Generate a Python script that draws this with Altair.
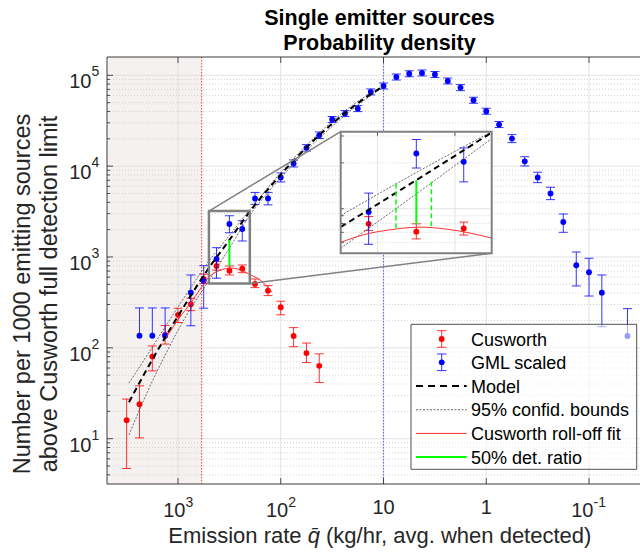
import altair as alt
import pandas as pd

# ---------------- values ----------------
# Cusworth detections (kg/hr bins) with error bars
cus_q  = [3162, 2371, 1778, 1334, 1000, 750, 562, 422, 316, 237, 178, 133, 100, 75.0, 56.2, 42.2]
cus_v  = [16.0, 24.0, 80.2, 139, 231, 302, 573, 796, 707, 743, 505, 426, 280, 135, 87.5, 63.4]
cus_lo = [4.7, 10.2, 55.8, 110, 190, 257, 509, 719, 634, 672, 460, 376, 231, 103, 68.9, 41.6]
cus_hi = [27.3, 38.2, 105, 176, 273, 352, 645, 888, 796, 817, 573, 484, 326, 167, 113, 85.9]

# GML scaled
gml_q  = [2371, 1778, 1334, 750, 562, 422, 316, 237, 178, 133,
          100, 75.0, 56.2, 42.2, 31.6, 23.7, 17.8, 13.3, 10.0,
          7.50, 5.62, 4.22, 3.16, 2.37, 1.78, 1.33, 1.00,
          0.750, 0.562, 0.422, 0.316, 0.237, 0.178, 0.133, 0.100, 0.0750, 0.0422]
gml_v  = [136, 136, 136, 405, 545, 951, 2306, 2032, 4416, 4416,
          7510, 10700, 15900, 21900, 32600, 37900, 43000, 65600, 76300,
          95700, 104000, 106000, 102000, 86600, 73200, 53100, 40200,
          28700, 20100, 11300, 7510, 5010, 2427, 811, 679, 405, 135]
gml_lo = [None, None, None, 175, 273, 584, 1849, 1500, 3794, 3750,
          6700, 9790, 14650, 20150, 30200, 35100, 39850, 60800, 70700,
          88700, 96400, 98200, 94500, 80300, 67800, 49200, 37250,
          26600, 18150, 10050, 6580, 4280, 1870, 480, 372, 171, None]
gml_hi = [275, 275, 275, 634, 802, 1266, 2845, 2507, 5140, 5140,
          8420, 11700, 17250, 23800, 35200, 40900, 46400, 70800, 82300,
          103300, 112200, 114400, 110100, 93400, 79000, 57300, 43400,
          31000, 22250, 12700, 8570, 5860, 2973, 1135, 968, 634, 270]

# Model and its 95% bounds
model_q  = [3000, 2000, 1300, 800, 500, 316, 200, 130, 80, 50, 30, 18, 10]
model_v  = [25.2, 58.6, 136.7, 336, 759, 1540, 3160, 5740, 10640, 18280, 30880, 48820, 76200]
bound_hi = [40.9, 82.7, 178, 414, 902, 1728, 3309, 6015, 11270, 19360, 32700, 51120, 76200]
bound_lo = [11.0, 32.2, 88.3, 243.5, 550, 1252, 2882, 5300, 9820, 16860, 28820, 46620, 74470]

# Cusworth roll-off fit
roll_q = [1300, 956, 764, 611, 500, 436, 371, 309, 263, 228, 200, 159, 122]
roll_v = [130, 219, 304, 440, 601, 674, 727, 757, 735, 692, 642, 558, 412]

# 50% detection ratio (solid = estimate, dashed = its bounds)
green_q    = [316, 357.5, 288.4]
green_lo   = [790, 743, 766]
green_hi   = [1540, 1470, 1500]
green_kind = ["solid", "dash", "dash"]

SHADE_Q = [588, 10000]
LIMIT_Q = [588]
PEAK_Q = [10]
ZOOM_Q = [200, 500]
ZOOM_V = [510, 3200]

X_MAJOR = [1000, 100, 10, 1, 0.1]
XT_BASE = ["10", "10", "10", "1", "10"]
XT_EXP = ["3", "2", "", "", "-1"]
Y_MAJOR = [10, 100, 1000, 10000, 100000]
YT_EXP = ["1", "2", "3", "4", "5"]
Y_MINOR = [m * 10 ** e for e in range(0, 5) for m in range(2, 10) if m * 10 ** e >= 4]
INSET_X_GRID = [400, 250]
INSET_Y_MAJOR = [1000]
INSET_Y_MINOR = [600, 700, 800, 900, 2000, 3000]

LEGEND_LABELS = ["Cusworth", "GML scaled", "Model", "95% confid. bounds",
                 "Cusworth roll-off fit", "50% det. ratio"]

# ---------------- styling / layout ----------------
FONT = "Liberation Sans"
AX = "#262626"
RED = "#FF0000"
BLUE = "#0000FF"
GREEN = "#00FF00"
GRAY = "#808080"
W, H = 533, 427
IX0, IY0, IX1, IY1 = 233.7, 74.7, 384.7, 196.3

XS = alt.Scale(type="log", domain=[0.03189, 4909], reverse=True, nice=False)
YS = alt.Scale(type="log", domain=[3.172, 159000], nice=False)
IXS = alt.Scale(type="log", domain=ZOOM_Q, range=[IX1, IX0], nice=False)
IYS = alt.Scale(type="log", domain=ZOOM_V, range=[IY1, IY0], nice=False, clamp=True)

ONE = pd.DataFrame({"o": [0]})


def ex(f, s):
    return alt.X(f"{f}:Q", scale=s, axis=None)


def ey(f, s):
    return alt.Y(f"{f}:Q", scale=s, axis=None)


cus = pd.DataFrame(dict(q=cus_q, v=cus_v, lo=cus_lo, hi=cus_hi))
cus["bar_lo"] = cus["lo"]
gml = pd.DataFrame(dict(q=gml_q, v=gml_v, lo=gml_lo, hi=gml_hi))
gml["lo"] = gml["lo"].astype(float)
gml["bar_lo"] = gml["lo"].fillna(gml["v"])
model = pd.DataFrame(dict(q=model_q, v=model_v, hi=bound_hi, lo=bound_lo))
roll = pd.DataFrame(dict(q=roll_q, v=roll_v))
green = pd.DataFrame(dict(q=green_q, lo=green_lo, hi=green_hi, kind=green_kind))


def in_zoom(df):
    return df[(df["q"] >= ZOOM_Q[0] - 0.01) & (df["q"] <= ZOOM_Q[1] + 0.01)].reset_index(drop=True)


def errbars(df, color, xs, ys):
    lay = []
    lay.append(alt.Chart(df).mark_rule(color=color, strokeWidth=1, opacity=0.8).encode(
        x=ex("q", xs), y=ey("bar_lo", ys), y2="hi:Q"))
    lay.append(alt.Chart(df).mark_tick(color=color, orient="horizontal", size=9, thickness=1, opacity=0.8).encode(
        x=ex("q", xs), y=ey("hi", ys)))
    lay.append(alt.Chart(df.dropna(subset=["lo"])).mark_tick(color=color, orient="horizontal", size=9,
                                                              thickness=1, opacity=0.8).encode(
        x=ex("q", xs), y=ey("lo", ys)))
    lay.append(alt.Chart(df).mark_circle(color=color, size=34, opacity=1).encode(
        x=ex("q", xs), y=ey("v", ys)))
    return lay


def curves(xs, ys, mdl, rl):
    ordr = alt.Order("q:Q", sort="descending")
    return [
        alt.Chart(mdl).mark_line(color="#444444", strokeWidth=0.8, strokeDash=[2, 1.5],
                                 interpolate="monotone").encode(x=ex("q", xs), y=ey("hi", ys), order=ordr),
        alt.Chart(mdl).mark_line(color="#444444", strokeWidth=0.8, strokeDash=[2, 1.5],
                                 interpolate="monotone").encode(x=ex("q", xs), y=ey("lo", ys), order=ordr),
        alt.Chart(mdl).mark_line(color="black", strokeWidth=2, strokeDash=[6, 4],
                                 interpolate="monotone").encode(x=ex("q", xs), y=ey("v", ys), order=ordr),
        alt.Chart(rl).mark_line(color="#FF3030", strokeWidth=1,
                                interpolate="monotone").encode(x=ex("q", xs), y=ey("v", ys), order=ordr),
    ]


# ---------------- main axes ----------------
main = []
main.append(alt.Chart(pd.DataFrame({"q1": [SHADE_Q[0]], "q2": [SHADE_Q[1]]})).mark_rect(
    color="#F6F1F1", clip=True).encode(x=ex("q1", XS), x2="q2:Q", y=alt.value(0), y2=alt.value(H)))
main.append(alt.Chart(pd.DataFrame({"v": Y_MINOR})).mark_rule(
    color="#C8C8C8", strokeWidth=0.8, strokeDash=[1, 2]).encode(y=ey("v", YS), x=alt.value(0), x2=alt.value(W)))
main.append(alt.Chart(pd.DataFrame({"v": Y_MAJOR})).mark_rule(
    color="#DCDCDC", strokeWidth=0.8).encode(y=ey("v", YS), x=alt.value(0), x2=alt.value(W)))
main.append(alt.Chart(pd.DataFrame({"q": X_MAJOR})).mark_rule(
    color="#DCDCDC", strokeWidth=0.8).encode(x=ex("q", XS), y=alt.value(0), y2=alt.value(H)))
main.append(alt.Chart(pd.DataFrame({"q": LIMIT_Q})).mark_rule(
    color=RED, strokeWidth=1, strokeDash=[1.5, 1.5], opacity=0.8).encode(x=ex("q", XS), y=alt.value(0), y2=alt.value(H)))
main.append(alt.Chart(pd.DataFrame({"q": PEAK_Q})).mark_rule(
    color="#6A6AFF", strokeWidth=1.2, strokeDash=[1.5, 1.5]).encode(x=ex("q", XS), y=alt.value(0), y2=alt.value(H)))
main += errbars(cus, RED, XS, YS)
main += errbars(gml, BLUE, XS, YS)
main += curves(XS, YS, model, roll)
main.append(alt.Chart(green[green["kind"] == "solid"]).mark_rule(color=GREEN, strokeWidth=2).encode(
    x=ex("q", XS), y=ey("lo", YS), y2="hi:Q"))
# zoom box and connectors
zb = pd.DataFrame({"q1": [ZOOM_Q[1]], "q2": [ZOOM_Q[0]], "v1": [ZOOM_V[0]], "v2": [ZOOM_V[1]]})
main.append(alt.Chart(zb).mark_rect(fill="white", fillOpacity=0, stroke=GRAY, strokeWidth=2.5).encode(
    x=ex("q1", XS), x2="q2:Q", y=ey("v1", YS), y2="v2:Q"))
main.append(alt.Chart(zb).mark_rule(color=GRAY, strokeWidth=1.5).encode(
    x=ex("q1", XS), y=ey("v2", YS), x2=alt.value(IX0), y2=alt.value(IY0)))
main.append(alt.Chart(zb).mark_rule(color=GRAY, strokeWidth=1.5).encode(
    x=ex("q2", XS), y=ey("v1", YS), x2=alt.value(IX1), y2=alt.value(IY1)))
# ticks and frame
main.append(alt.Chart(pd.DataFrame({"v": Y_MAJOR})).mark_rule(color=AX, strokeWidth=0.8).encode(
    y=ey("v", YS), x=alt.value(0), x2=alt.value(6)))
main.append(alt.Chart(pd.DataFrame({"v": Y_MINOR})).mark_rule(color=AX, strokeWidth=0.8).encode(
    y=ey("v", YS), x=alt.value(0), x2=alt.value(3)))
main.append(alt.Chart(pd.DataFrame({"q": X_MAJOR})).mark_rule(color=AX, strokeWidth=0.8).encode(
    x=ex("q", XS), y=alt.value(H), y2=alt.value(H - 6)))
main.append(alt.Chart(pd.DataFrame({"q": X_MAJOR})).mark_rule(color=AX, strokeWidth=0.8).encode(
    x=ex("q", XS), y=alt.value(0), y2=alt.value(6)))
main.append(alt.Chart(ONE).mark_rule(color=AX, strokeWidth=0.9).encode(
    x=alt.value(0), y=alt.value(0), y2=alt.value(H)))
main.append(alt.Chart(ONE).mark_rule(color=AX, strokeWidth=0.9).encode(
    x=alt.value(0), x2=alt.value(W), y=alt.value(0)))
main.append(alt.Chart(ONE).mark_rule(color=AX, strokeWidth=0.9).encode(
    x=alt.value(0), x2=alt.value(W), y=alt.value(H)))
# tick labels
ytl = pd.DataFrame({"v": Y_MAJOR, "exp": YT_EXP})
main.append(alt.Chart(ytl).mark_text(align="right", baseline="alphabetic", fontSize=20, font=FONT,
                                     color=AX, dy=13).encode(x=alt.value(-15.5), y=ey("v", YS),
                                                             text=alt.value("10")))
main.append(alt.Chart(ytl).mark_text(align="left", baseline="alphabetic", fontSize=14, font=FONT,
                                     color=AX, dy=1).encode(x=alt.value(-15.5), y=ey("v", YS), text="exp:N"))
xtl = pd.DataFrame({"q": X_MAJOR, "base": XT_BASE, "exp": XT_EXP})
x1 = xtl[xtl["exp"].str.len() == 1]
x2 = xtl[xtl["exp"].str.len() == 2]
x0 = xtl[xtl["exp"] == ""]
for d, off in ((x1, 7.5), (x2, 4.5)):
    main.append(alt.Chart(d).mark_text(align="right", baseline="alphabetic", fontSize=20, font=FONT,
                                       color=AX, dx=off).encode(x=ex("q", XS), y=alt.value(H + 33),
                                                                text="base:N"))
    main.append(alt.Chart(d).mark_text(align="left", baseline="alphabetic", fontSize=14, font=FONT,
                                       color=AX, dx=off).encode(x=ex("q", XS), y=alt.value(H + 23),
                                                                text="exp:N"))
main.append(alt.Chart(x0).mark_text(align="center", baseline="alphabetic", fontSize=20, font=FONT,
                                    color=AX).encode(x=ex("q", XS), y=alt.value(H + 29.5), text="base:N"))
main_layer = alt.layer(*main)

# ---------------- inset (magnified zoom box) ----------------
ins = []
ins.append(alt.Chart(ONE).mark_rect(color="white").encode(
    x=alt.value(IX0), x2=alt.value(IX1), y=alt.value(IY0), y2=alt.value(IY1)))
ins.append(alt.Chart(pd.DataFrame({"v": INSET_Y_MINOR})).mark_rule(
    color="#C8C8C8", strokeWidth=0.8, strokeDash=[1, 2]).encode(y=ey("v", IYS), x=alt.value(IX0), x2=alt.value(IX1)))
ins.append(alt.Chart(pd.DataFrame({"v": INSET_Y_MAJOR})).mark_rule(
    color="#DCDCDC", strokeWidth=0.8).encode(y=ey("v", IYS), x=alt.value(IX0), x2=alt.value(IX1)))
ins.append(alt.Chart(pd.DataFrame({"q": INSET_X_GRID})).mark_rule(
    color="#DCDCDC", strokeWidth=0.8).encode(x=ex("q", IXS), y=alt.value(IY0), y2=alt.value(IY1)))
ins.append(alt.Chart(pd.DataFrame({"v": INSET_Y_MINOR + INSET_Y_MAJOR})).mark_rule(
    color=AX, strokeWidth=0.8).encode(y=ey("v", IYS), x=alt.value(IX0), x2=alt.value(IX0 + 3)))
ins.append(alt.Chart(pd.DataFrame({"q": INSET_X_GRID})).mark_rule(
    color=AX, strokeWidth=0.8).encode(x=ex("q", IXS), y=alt.value(IY0), y2=alt.value(IY0 + 4)))
ins += errbars(in_zoom(cus), RED, IXS, IYS)
ins += errbars(in_zoom(gml), BLUE, IXS, IYS)
ins += curves(IXS, IYS, in_zoom(model), in_zoom(roll))
ins.append(alt.Chart(green[green["kind"] == "dash"]).mark_rule(
    color=GREEN, strokeWidth=1.5, strokeDash=[5, 3]).encode(x=ex("q", IXS), y=ey("lo", IYS), y2="hi:Q"))
ins.append(alt.Chart(green[green["kind"] == "solid"]).mark_rule(
    color=GREEN, strokeWidth=2).encode(x=ex("q", IXS), y=ey("lo", IYS), y2="hi:Q"))
ins.append(alt.Chart(ONE).mark_rect(fill="white", fillOpacity=0, stroke=GRAY, strokeWidth=2).encode(
    x=alt.value(IX0), x2=alt.value(IX1), y=alt.value(IY0), y2=alt.value(IY1)))
inset_layer = alt.layer(*ins)

# ---------------- legend, titles ----------------
deco = []
LX0, LX1, LY0, LY1 = 304, 529.7, 267.3, 412.3
rows = [282, 305.3, 329, 352.7, 376.4, 400.1]
deco.append(alt.Chart(ONE).mark_rect(fill="white", fillOpacity=0.6, stroke=AX, strokeWidth=0.8).encode(
    x=alt.value(LX0), x2=alt.value(LX1), y=alt.value(LY0), y2=alt.value(LY1)))
for r, col in ((rows[0], RED), (rows[1], BLUE)):
    deco.append(alt.Chart(ONE).mark_rule(color=col, strokeWidth=1, opacity=0.8).encode(
        x=alt.value(334.7), y=alt.value(r - 8.3), y2=alt.value(r + 8.3)))
    for yy in (r - 8.3, r + 8.3):
        deco.append(alt.Chart(ONE).mark_rule(color=col, strokeWidth=1, opacity=0.8).encode(
            x=alt.value(330), x2=alt.value(339.5), y=alt.value(yy)))
    deco.append(alt.Chart(ONE).mark_circle(color=col, size=34, opacity=1).encode(
        x=alt.value(334.7), y=alt.value(r)))
line_styles = [
    dict(color="black", strokeWidth=2, strokeDash=[7, 5]),
    dict(color="#444444", strokeWidth=0.8, strokeDash=[2, 1.5]),
    dict(color="#FF3030", strokeWidth=1),
    dict(color=GREEN, strokeWidth=2),
]
for r, st in zip(rows[2:], line_styles):
    deco.append(alt.Chart(ONE).mark_rule(**st).encode(
        x=alt.value(309), x2=alt.value(359.7), y=alt.value(r)))
for r, lab in zip(rows, LEGEND_LABELS):
    deco.append(alt.Chart(ONE).mark_text(align="left", baseline="alphabetic", fontSize=18, font=FONT,
                                         color="black").encode(x=alt.value(364), y=alt.value(r + 6.5),
                                                               text=alt.value(lab)))
# title
for txt, yy in (("Single emitter sources", -32), ("Probability density", -7)):
    deco.append(alt.Chart(ONE).mark_text(align="center", baseline="alphabetic", fontSize=21.5, font=FONT,
                                         fontWeight="bold", color="black").encode(
        x=alt.value(272.5), y=alt.value(yy), text=alt.value(txt)))
# x axis title (three pieces so that q-bar is italic)
for txt, xx, sty in (("Emission rate", 61.3, "normal"), ("q\u0304", 200.7, "italic"),
                     ("(kg/hr, avg. when detected)", 219.0, "normal")):
    deco.append(alt.Chart(ONE).mark_text(align="left", baseline="alphabetic", fontSize=22, font=FONT,
                                         fontStyle=sty, color=AX).encode(
        x=alt.value(xx), y=alt.value(486), text=alt.value(txt)))
# y axis title
for txt, xx in (("Number per 1000 emitting sources", -77.5), ("above Cusworth full detection limit", -50.5)):
    deco.append(alt.Chart(ONE).mark_text(align="center", baseline="alphabetic", fontSize=23.5, font=FONT,
                                         angle=270, color=AX).encode(
        x=alt.value(xx), y=alt.value(237), text=alt.value(txt)))
deco_layer = alt.layer(*deco)

chart = alt.layer(main_layer, inset_layer, deco_layer).resolve_scale(
    x="independent", y="independent"
).properties(
    width=W, height=H,
    autosize=alt.AutoSizeParams(type="none"),
    padding={"left": 107, "top": 57, "right": 0, "bottom": 68},
).configure_view(stroke=None)

chart.save("out.html", embed_options={"renderer": "svg", "actions": False})
